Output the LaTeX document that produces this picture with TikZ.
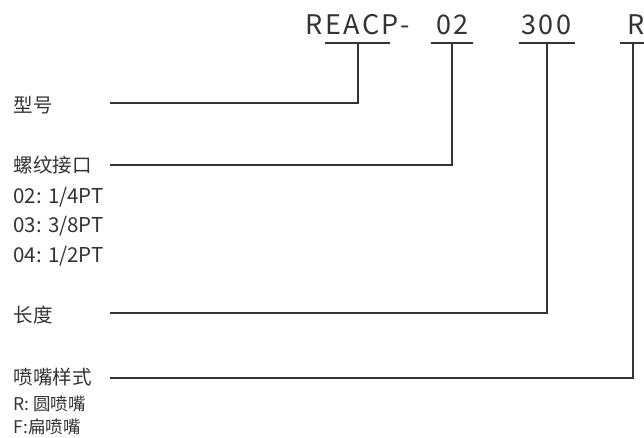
\documentclass[tikz,border=0pt]{standalone}
\usepackage{fontspec}
\setmainfont{Noto Sans CJK SC}
\usetikzlibrary{positioning}

\begin{document}
\begin{tikzpicture}[x=1pt,y=-1pt,line width=1.1pt,color=black!80,
  node distance=0pt,
  code node/.style={anchor=base west,inner sep=0pt,
  font=\fontsize{27}{27}\selectfont\addfontfeature{LetterSpace=9}},
  main label/.style={anchor=west,inner sep=0pt,font=\fontsize{19.5}{20}\selectfont},
  sub label/.style={anchor=base west,inner sep=0pt,font=\fontsize{20.5}{21}\selectfont},
  note label/.style={anchor=west,inner sep=0pt,font=\fontsize{17.5}{18}\selectfont}]

  \useasboundingbox (0,0) rectangle (644,438);

  % part code on top
  \node[code node] (model) at (305,35) {REACP-};
  \node[code node] (thread) at (436,35) {02};
  \node[code node] (len) at (521,35) {300};
  \node[code node] (nozzle) at (627,35) {R};

  % underlines and the points where the leaders meet them
  \coordinate (modelA) at (325,43);  \coordinate (modelB) at (390,43);
  \coordinate (threadA) at (431,43); \coordinate (threadB) at (473,43);
  \coordinate (lenA) at (519,43);    \coordinate (lenB) at (575,43);
  \coordinate (nozzleA) at (620,43); \coordinate (nozzleB) at (646,43);
  \coordinate (modelT) at (358,43);
  \coordinate (threadT) at (452,43);
  \coordinate (lenT) at (547,43);
  \coordinate (nozzleT) at (633,43);

  % labels on the left
  \node[main label] (modelL) at (13,105) {型号};
  \node[main label] (threadL) at (13,165) {螺纹接口};
  \node[sub label] (thA) at (13,204) {02: 1/4PT};
  \node[sub label] (thB) at (13,233) {03: 3/8PT};
  \node[sub label] (thC) at (13,262) {04: 1/2PT};
  \node[main label] (lenL) at (13,315) {长度};
  \node[main label] (nozzleL) at (13,377) {喷嘴样式};
  \node[note label] (nzA) at (13,404) {R: 圆喷嘴};
  \node[note label] (nzB) at (13,427) {F:扁喷嘴};

  % leader start points
  \coordinate (modelS) at (110,103);
  \coordinate (threadS) at (110,165);
  \coordinate (lenS) at (110,313);
  \coordinate (nozzleS) at (110,378);

  \draw (modelA) -- (modelB);
  \draw (threadA) -- (threadB);
  \draw (lenA) -- (lenB);
  \draw (nozzleA) -- (nozzleB);

  \draw (modelS) -| (modelT);
  \draw (threadS) -| (threadT);
  \draw (lenS) -| (lenT);
  \draw (nozzleS) -| (nozzleT);
\end{tikzpicture}
\end{document}
